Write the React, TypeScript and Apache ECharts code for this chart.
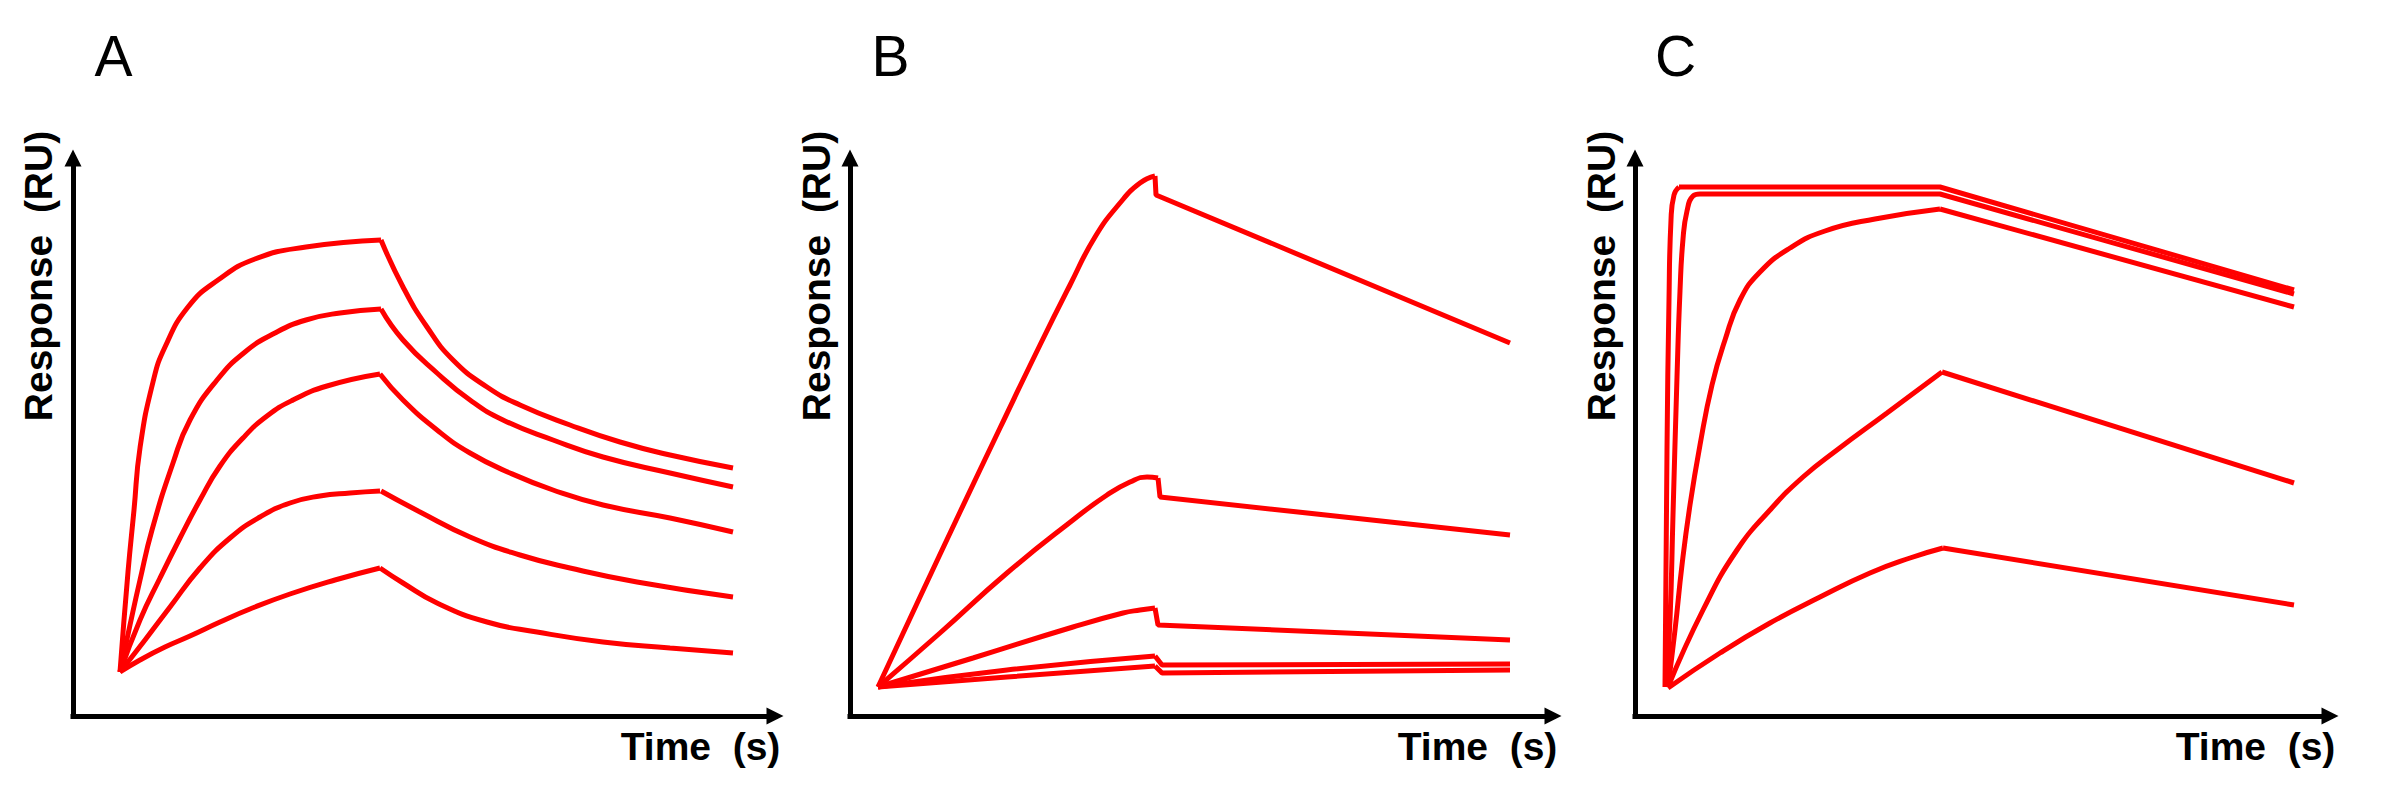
import React, { useEffect, useRef } from "react";
import * as echarts from "echarts";

// ---- texts ----
const panelLabels = ["A", "B", "C"];
const xAxisName = "Time  (s)";
const yAxisName = "Response  (RU)";

// ---- axis ranges (time in s, response in RU) ----
const timeMax = [702, 703, 695];
const responseMax = 558;

// ---- Panel A : [time, response] ----
const a1Assoc = [[47, 44], [55, 144], [61, 206], [67, 268], [80, 334], [92, 369], [115, 409], [145, 436], [182, 457], [233, 469], [308, 476]];
const a1Dissoc = [[308, 476], [330, 429], [354, 389], [380, 356], [414, 329], [447, 311], [497, 291], [547, 274], [597, 261], [660, 248]];
const a2Assoc = [[47, 44], [57, 91], [67, 136], [79, 186], [100, 253], [117, 296], [144, 336], [172, 364], [202, 383], [233, 396], [267, 403], [308, 407]];
const a2Dissoc = [[308, 407], [330, 376], [364, 343], [397, 316], [430, 296], [480, 276], [530, 259], [597, 243], [660, 229]];
const a3Assoc = [[47, 44], [67, 96], [87, 138], [107, 178], [127, 216], [147, 250], [170, 278], [194, 300], [220, 316], [254, 330], [307, 342]];
const a3Dissoc = [[307, 342], [330, 316], [364, 286], [397, 263], [437, 243], [480, 226], [530, 211], [597, 198], [660, 184]];
const a4Assoc = [[47, 44], [72, 76], [97, 109], [127, 148], [157, 178], [187, 199], [217, 213], [247, 220], [277, 223], [307, 225]];
const a4Dissoc = [[308, 225], [347, 204], [397, 179], [447, 161], [497, 148], [564, 134], [660, 119]];
const a5Assoc = [[47, 44], [67, 56], [92, 69], [117, 80], [147, 94], [177, 107], [217, 122], [262, 136], [307, 148]];
const a5Dissoc = [[307, 148], [330, 133], [364, 113], [414, 94], [464, 84], [530, 74], [597, 68], [660, 63]];

// ---- Panel B ----
const b1Assoc = [[28, 29], [70, 119], [110, 204], [150, 288], [190, 371], [220, 431], [245, 479], [270, 513], [290, 533], [305, 540]];
const b1Dissoc = [[305, 540], [306, 521], [660, 373]];
const b2Assoc = [[28, 29], [90, 83], [157, 143], [223, 196], [257, 221], [280, 234], [297, 239], [308, 238]];
const b2Dissoc = [[308, 238], [310, 219], [660, 181]];
const b3Assoc = [[28, 29], [123, 58], [223, 89], [273, 103], [290, 106], [305, 108]];
const b3Dissoc = [[305, 108], [308, 91], [660, 76]];
const b4Assoc = [[28, 29], [157, 46], [305, 60]];
const b4Dissoc = [[305, 60], [312, 51], [660, 52]];
const b5Assoc = [[28, 29], [157, 39], [305, 50]];
const b5Dissoc = [[305, 50], [312, 43], [660, 46]];

// ---- Panel C ----
const c1Assoc = [[30, 29], [32, 266], [34, 416], [36, 496], [39, 521], [44, 529]];
const c1Dissoc = [[44, 529], [305, 529], [659, 426]];
const c2Assoc = [[31, 29], [35, 96], [38, 201], [42, 339], [45, 425], [48, 477], [52, 505], [58, 520], [65, 522]];
const c2Dissoc = [[65, 522], [305, 522], [659, 422]];
const c3Assoc = [[33, 29], [40, 86], [47, 151], [55, 211], [65, 271], [77, 331], [90, 376], [105, 416], [125, 444], [155, 468], [190, 485], [240, 497], [305, 507]];
const c3Dissoc = [[305, 507], [659, 409]];
const c4Assoc = [[33, 29], [68, 106], [102, 166], [135, 206], [168, 239], [202, 266], [252, 303], [307, 344]];
const c4Dissoc = [[307, 344], [659, 233]];
const c5Assoc = [[33, 28], [85, 63], [135, 93], [185, 119], [235, 143], [275, 158], [308, 168]];
const c5Dissoc = [[308, 168], [659, 111]];

const panelCurves = [
  [[a1Assoc, a1Dissoc], [a2Assoc, a2Dissoc], [a3Assoc, a3Dissoc], [a4Assoc, a4Dissoc], [a5Assoc, a5Dissoc]],
  [[b1Assoc, b1Dissoc], [b2Assoc, b2Dissoc], [b3Assoc, b3Dissoc], [b4Assoc, b4Dissoc], [b5Assoc, b5Dissoc]],
  [[c1Assoc, c1Dissoc], [c2Assoc, c2Dissoc], [c3Assoc, c3Dissoc], [c4Assoc, c4Dissoc], [c5Assoc, c5Dissoc]],
];
const smoothDissoc = [0.5, 0, 0];

export default function App() {
  const ref = useRef<HTMLDivElement>(null);

  useEffect(() => {
    const chart = echarts.init(ref.current as HTMLDivElement, null, { renderer: "svg" });

    const grids = [
      { left: 73, top: 158, width: 702, height: 558 },
      { left: 850, top: 158, width: 703, height: 558 },
      { left: 1635, top: 158, width: 695, height: 558 },
    ];
    const labelX = [113.5, 890.5, 1675.5];
    const yNameX = [38, 816.5, 1601];
    const xNameX = [700.5, 1477.5, 2255.5];

    const axis = (max: number, gridIndex: number) => ({
      type: "value",
      gridIndex,
      min: 0,
      max,
      axisLine: {
        show: true,
        onZero: false,
        symbol: ["none", "triangle"],
        symbolSize: [17, 17],
        lineStyle: { color: "#000", width: 5, cap: "square" },
      },
      axisTick: { show: false },
      axisLabel: { show: false },
      splitLine: { show: false },
    });

    const series: any[] = [];
    panelCurves.forEach((curves, p) => {
      curves.forEach(([assoc, dissoc]) => {
        series.push({
          type: "line",
          xAxisIndex: p,
          yAxisIndex: p,
          data: assoc,
          smooth: 0.5,
          symbol: "none",
          silent: true,
          lineStyle: { color: "#ff0000", width: 5 },
        });
        series.push({
          type: "line",
          xAxisIndex: p,
          yAxisIndex: p,
          data: dissoc,
          smooth: smoothDissoc[p],
          symbol: "none",
          silent: true,
          lineStyle: { color: "#ff0000", width: 5 },
        });
      });
    });

    const txt = (text: string, x: number, y: number, font: string, rotation = 0) => ({
      type: "text",
      x,
      y,
      rotation,
      silent: true,
      style: {
        text,
        fill: "#000",
        font,
        textAlign: "center",
        textVerticalAlign: "middle",
        align: "center",
        verticalAlign: "middle",
      },
    });

    const graphic: any[] = [];
    panelLabels.forEach((l, i) => {
      graphic.push(txt(l, labelX[i], 56, '57px "Liberation Sans", Arial, sans-serif'));
      graphic.push(txt(yAxisName, yNameX[i], 276, 'bold 39px "Liberation Sans", Arial, sans-serif', Math.PI / 2));
      graphic.push(txt(xAxisName, xNameX[i], 746, 'bold 39px "Liberation Sans", Arial, sans-serif'));
    });

    chart.setOption({
      animation: false,
      backgroundColor: "#ffffff",
      grid: grids,
      xAxis: timeMax.map((m, i) => axis(m, i)),
      yAxis: timeMax.map((_, i) => axis(responseMax, i)),
      series,
      graphic,
    });

    return () => chart.dispose();
  }, []);

  return (
    <div
      ref={ref}
      style={{ position: "absolute", left: 0, top: 0, width: 2388, height: 791, background: "#fff" }}
    />
  );
}
